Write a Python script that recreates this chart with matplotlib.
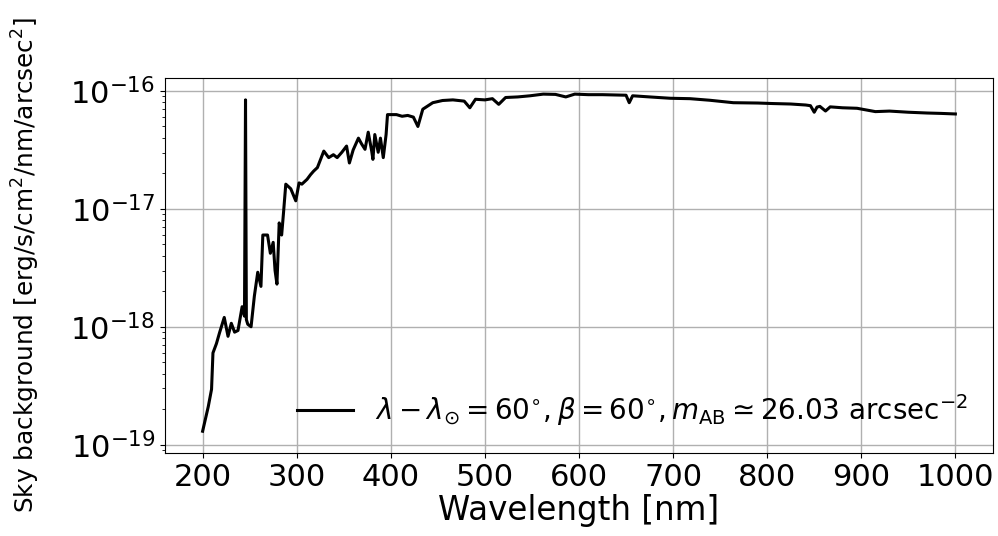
import numpy as np
import matplotlib
matplotlib.use("Agg")
import matplotlib.pyplot as plt

# sky background spectrum (nm, erg/s/cm2/nm/arcsec2)
wavelength = [200, 206, 209.5, 211, 214.7, 218, 223, 227, 230.5, 234, 237.6, 242, 244.5,
              245.6, 246.5, 248, 251.5, 255, 258.6, 262, 264, 269, 272, 275, 277, 279,
              281.4, 284, 286, 288.4, 293.7, 299, 302.5, 305.5, 311, 314.7, 318, 322, 328.8,
              334, 339, 343, 348, 353, 356, 360, 365.6, 369, 372.6, 376, 379.7, 381,
              383, 386.6, 389, 392, 395, 396.5, 406, 412, 418, 424, 428.8, 434, 444.6,
              455, 466, 478, 484, 490, 500, 508, 514.7, 522, 535, 548, 562, 575,
              586, 595.5, 610, 625, 650, 653.4, 657, 675, 697, 718, 739, 764, 790,
              806, 825, 841, 846, 850, 853, 856, 862, 867, 880, 895.5, 915, 930,
              950, 970, 985, 1000]
sky = [1.30e-19, 2.10e-19, 2.95e-19, 6.0e-19, 7.2e-19, 8.9e-19, 1.20e-18, 8.3e-19, 1.07e-18, 9.0e-19, 9.3e-19, 1.48e-18, 1.23e-18,
       8.4e-17, 1.15e-18, 1.05e-18, 1.00e-18, 1.82e-18, 2.9e-18, 2.2e-18, 6.0e-18, 6.0e-18, 4.2e-18, 5.2e-18, 3.0e-18, 2.3e-18,
       7.6e-18, 6.0e-18, 9.3e-18, 1.62e-17, 1.48e-17, 1.17e-17, 1.66e-17, 1.62e-17, 1.78e-17, 1.95e-17, 2.09e-17, 2.24e-17, 3.09e-17,
       2.72e-17, 2.88e-17, 2.72e-17, 3.02e-17, 3.41e-17, 2.45e-17, 3.16e-17, 3.98e-17, 3.55e-17, 3.2e-17, 4.47e-17, 3.09e-17, 2.63e-17,
       4.27e-17, 3.02e-17, 3.98e-17, 2.72e-17, 4.27e-17, 6.3e-17, 6.3e-17, 6.1e-17, 6.2e-17, 6.0e-17, 5.0e-17, 7.0e-17, 7.95e-17,
       8.3e-17, 8.4e-17, 8.2e-17, 7.2e-17, 8.5e-17, 8.4e-17, 8.6e-17, 7.7e-17, 8.8e-17, 8.9e-17, 9.1e-17, 9.4e-17, 9.35e-17,
       8.9e-17, 9.4e-17, 9.3e-17, 9.3e-17, 9.2e-17, 7.95e-17, 9.1e-17, 8.9e-17, 8.67e-17, 8.6e-17, 8.34e-17, 7.95e-17, 7.9e-17,
       7.82e-17, 7.75e-17, 7.6e-17, 7.5e-17, 6.6e-17, 7.3e-17, 7.4e-17, 6.76e-17, 7.33e-17, 7.2e-17, 7.13e-17, 6.68e-17, 6.75e-17,
       6.6e-17, 6.5e-17, 6.45e-17, 6.38e-17]

label = r"$\lambda - \lambda_{\odot} = 60^{\circ}, \beta = 60^{\circ}, m_{\rm AB} \simeq 26.03$ arcsec$^{-2}$"

fig = plt.figure(figsize=(9.98, 5.36), dpi=100)
ax = fig.add_axes([0.1653, 0.155, 0.8297, 0.6995])
ax.plot(wavelength, sky, color="black", lw=2.2, label=label)
ax.set_yscale("log")
ax.set_xlim(160, 1040)
ax.set_ylim(10**-19.07, 10**-15.89)
ax.set_xticks(np.arange(200, 1001, 100))
ax.tick_params(axis="both", which="major", labelsize=22)
ax.grid(True, which="major", color="#b0b0b0", lw=1)
ax.set_xlabel("Wavelength [nm]", fontsize=23.5, labelpad=2)
ax.set_ylabel(r"Sky background [erg/s/cm$^2$/nm/arcsec$^2$]", fontsize=17.8)
ax.yaxis.set_label_coords(-0.148, 0.5)
ax.legend(loc="lower right", frameon=False, fontsize=20)

fig.savefig("out.png", dpi=100)
